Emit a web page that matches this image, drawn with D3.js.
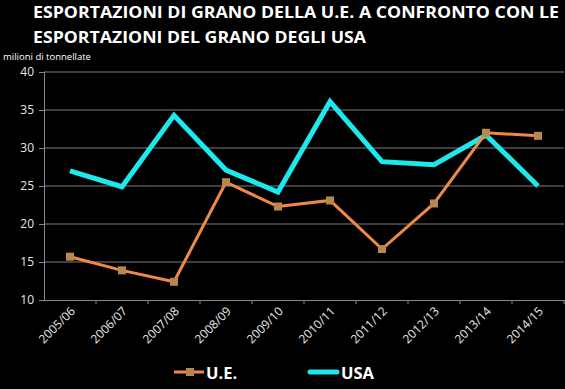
<!DOCTYPE html>
<html><head><meta charset="utf-8">
<script src="https://cdn.jsdelivr.net/npm/d3@7"></script>
<style>html,body{margin:0;padding:0;background:#000;}svg{display:block;}</style>
</head><body>
<svg id="c" width="565" height="389"></svg>
<script>
const categories = ["2005/06","2006/07","2007/08","2008/09","2009/10","2010/11","2011/12","2012/13","2013/14","2014/15"];
const ueValues = [15.7,13.9,12.4,25.5,22.3,23.1,16.7,22.7,32.0,31.6];
const usaValues = [27.0,24.9,34.3,27.1,24.2,36.1,28.2,27.8,31.7,25.0];
const yTicks = [10,15,20,25,30,35,40];
const titleLines = ["ESPORTAZIONI DI GRANO DELLA U.E. A CONFRONTO CON LE","ESPORTAZIONI DEL GRANO DEGLI USA"];
const yLabel = "milioni di tonnellate";
const seriesNames = ["U.E.","USA"];

const svg = d3.select("#c");
const font = "'Open Sans', 'DejaVu Sans', sans-serif";
svg.append("rect").attr("width",565).attr("height",389).attr("fill","#000");

const x = d3.scaleBand().domain(categories).range([44,564]);
const y = d3.scaleLinear().domain([10,40]).range([300,72]);

// gridlines
svg.append("g").selectAll("line").data(yTicks.filter(d=>d>10)).join("line")
  .attr("x1",44).attr("x2",564).attr("y1",d=>y(d)).attr("y2",d=>y(d))
  .attr("stroke","#7f7f7f").attr("stroke-width",1);

// y axis
const yAxis = svg.append("g").attr("transform","translate(44,0)")
  .call(d3.axisLeft(y).tickValues(yTicks).tickSize(5).tickPadding(5));
yAxis.select(".domain").attr("stroke","#8a8a8a");
yAxis.selectAll(".tick line").attr("stroke","#8a8a8a");
yAxis.selectAll("text").attr("fill","#e8e8e8").style("font-family",font).style("font-size","12px");

// x axis
const xAxis = svg.append("g").attr("transform","translate(0,300)")
  .call(d3.axisBottom(x).tickSize(0).tickFormat(""));
xAxis.select(".domain").attr("stroke","#8a8a8a");
svg.append("g").selectAll("line").data(categories).join("line")
  .attr("x1",d=>x(d)+x.bandwidth()).attr("x2",d=>x(d)+x.bandwidth())
  .attr("y1",300).attr("y2",304).attr("stroke","#8a8a8a");
svg.append("g").selectAll("text").data(categories).join("text")
  .attr("transform",d=>`translate(${x(d)+x.bandwidth()/2+3},${309}) rotate(-45)`)
  .attr("text-anchor","end").attr("dy","0.35em")
  .attr("fill","#e8e8e8").style("font-family",font).style("font-size","12px")
  .text(d=>d);

const cx = d => x(d)+x.bandwidth()/2;

// USA line
svg.append("path").datum(usaValues)
  .attr("d", d3.line().x((d,i)=>cx(categories[i])).y(d=>y(d)))
  .attr("fill","none").attr("stroke","#1de9ec").attr("stroke-width",5).attr("stroke-linejoin","miter");

// UE line
svg.append("path").datum(ueValues)
  .attr("d", d3.line().x((d,i)=>cx(categories[i])).y(d=>y(d)))
  .attr("fill","none").attr("stroke","#ee8a45").attr("stroke-width",3);
svg.append("g").selectAll("rect").data(ueValues).join("rect")
  .attr("x",(d,i)=>cx(categories[i])-4).attr("y",d=>y(d)-4)
  .attr("width",8).attr("height",8).attr("fill","#b8874f");

// title
const t = svg.append("g");
titleLines.forEach((s,i)=>{
  const el = t.append("text").attr("x",33).attr("y",18+i*25)
    .attr("fill","#fff").style("font-family",font).style("font-weight","bold").style("font-size","16.5px")
    .text(s);
  const target = i===0 ? 526 : 333;
  el.attr("textLength",target).attr("lengthAdjust","spacingAndGlyphs");
});

// y label
svg.append("text").attr("x",3).attr("y",60).attr("fill","#fff")
  .style("font-family",font).style("font-size","9.5px").text(yLabel);

// legend
const lg = svg.append("g");
lg.append("line").attr("x1",174).attr("x2",204).attr("y1",372).attr("y2",372)
  .attr("stroke","#ee8a45").attr("stroke-width",3);
lg.append("rect").attr("x",186).attr("y",368).attr("width",8).attr("height",8).attr("fill","#b8874f");
lg.append("text").attr("x",206).attr("y",379).attr("fill","#fff")
  .style("font-family",font).style("font-weight","bold").style("font-size","16.5px").text(seriesNames[0]);
lg.append("line").attr("x1",310).attr("x2",337).attr("y1",372).attr("y2",372)
  .attr("stroke","#1de9ec").attr("stroke-width",5).attr("stroke-linecap","round");
lg.append("text").attr("x",341).attr("y",379).attr("fill","#fff")
  .style("font-family",font).style("font-weight","bold").style("font-size","16.5px").text(seriesNames[1]);
</script>
</body></html>
